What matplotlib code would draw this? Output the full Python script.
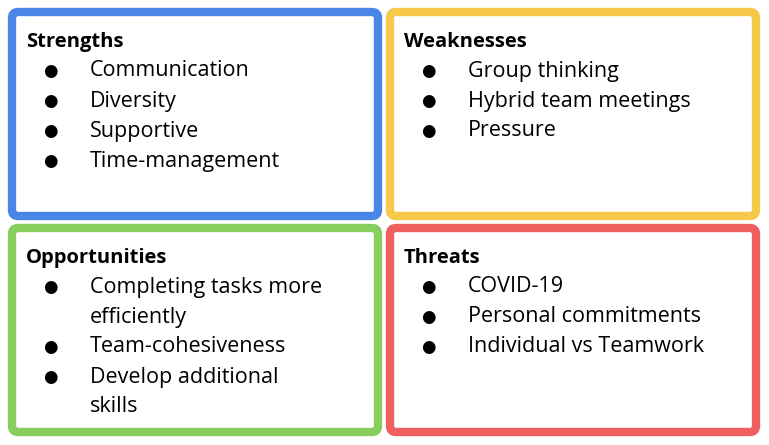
import matplotlib.pyplot as plt
from matplotlib.patches import FancyBboxPatch

titles = ["Strengths", "Weaknesses", "Opportunities", "Threats"]
items = [
    ["Communication", "Diversity", "Supportive", "Time-management"],
    ["Group thinking", "Hybrid team meetings", "Pressure"],
    ["Completing tasks more\nefficiently", "Team-cohesiveness", "Develop additional\nskills"],
    ["COVID-19", "Personal commitments", "Individual vs Teamwork"],
]
colors = ["#4a86e8", "#f6c94a", "#86cf5f", "#ef5f60"]

W, H = 769, 445
fig = plt.figure(figsize=(W / 100, H / 100), dpi=100)
ax = fig.add_axes([0, 0, 1, 1])
ax.set_xlim(0, W)
ax.set_ylim(H, 0)
ax.axis("off")

boxes = [(12, 12), (390, 12), (12, 228), (390, 228)]
bw, bh = 366, 204
font = ["Open Sans", "DejaVu Sans"]

for (x0, y0), t, its, c in zip(boxes, titles, items, colors):
    ax.add_patch(FancyBboxPatch((x0, y0), bw, bh, boxstyle="round,pad=0,rounding_size=6",
                                fill=False, edgecolor=c, linewidth=6))
    ax.text(x0 + 14, y0 + 30, t, fontsize=14.5, fontweight="bold", family=font, va="center")
    y = y0 + 59
    for it in its:
        lines = it.split("\n")
        ax.text(x0 + 38, y, "●", fontsize=12, family=["DejaVu Sans"], va="center", ha="center")
        for ln in lines:
            ax.text(x0 + 78, y, ln, fontsize=15.5, family=font, va="center")
            y += 30

fig.savefig("out.png", dpi=100)
